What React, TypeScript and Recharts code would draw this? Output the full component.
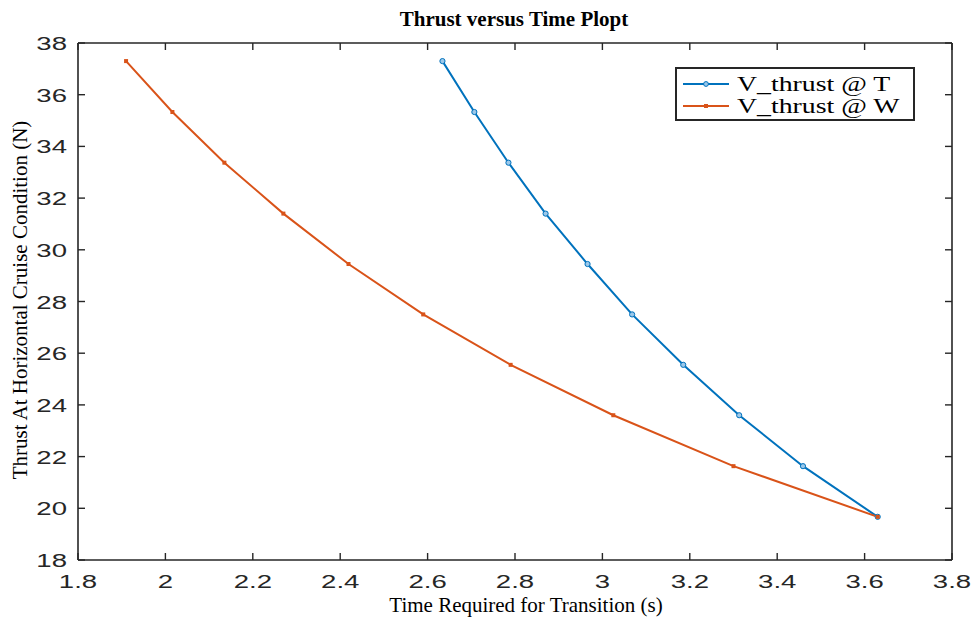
import { LineChart, Line, XAxis, YAxis } from 'recharts'

const thrust = [37.3, 35.33, 33.37, 31.4, 29.45, 27.5, 25.55, 23.6, 21.63, 19.67]
const timeAtT = [2.634, 2.707, 2.785, 2.87, 2.966, 3.068, 3.185, 3.313, 3.459, 3.63]
const timeAtW = [1.91, 2.016, 2.135, 2.27, 2.419, 2.59, 2.79, 3.025, 3.3, 3.63]
const xTicks = [1.8, 2, 2.2, 2.4, 2.6, 2.8, 3, 3.2, 3.4, 3.6, 3.8]
const yTicks = [18, 20, 22, 24, 26, 28, 30, 32, 34, 36, 38]
const seriesNames = ['V_thrust @ T', 'V_thrust @ W']

const seriesT = thrust.map((v, i) => ({ time: timeAtT[i], thrust: v }))
const seriesW = thrust.map((v, i) => ({ time: timeAtW[i], thrust: v }))

const BLUE = '#0072BD'
const ORANGE = '#D95319'
const AXIS = '#262626'
const SANS = '"Liberation Sans", Arial, sans-serif'
const SERIF = '"Liberation Serif", "Times New Roman", serif'
const STRETCH = 1.45
const TICK_LEN = 7

// MATLAB style: tick marks point into the plot, labels are wide
const BottomTick = ({ x, y, payload }: any) => (
  <g transform={`translate(${x},${y})`}>
    <line x1={0} y1={0} x2={0} y2={-TICK_LEN} stroke={AXIS} strokeWidth={1.4} />
    <text transform={`scale(${STRETCH},1)`} x={0} y={28} textAnchor="middle" fontFamily={SANS} fontSize={19} fill={AXIS}>
      {payload.value}
    </text>
  </g>
)

const LeftTick = ({ x, y, payload }: any) => (
  <g>
    <line x1={x} y1={y} x2={x + TICK_LEN} y2={y} stroke={AXIS} strokeWidth={1.4} />
    <g transform={`translate(${x - 11},${y})`}>
      <text transform={`scale(${STRETCH},1)`} x={0} y={7} textAnchor="end" fontFamily={SANS} fontSize={19} fill={AXIS}>
        {payload.value}
      </text>
    </g>
  </g>
)

const TopTick = ({ x, y }: any) => (
  <line x1={x} y1={y} x2={x} y2={y + TICK_LEN} stroke={AXIS} strokeWidth={1.4} />
)

const RightTick = ({ x, y }: any) => (
  <line x1={x} y1={y} x2={x - TICK_LEN} y2={y} stroke={AXIS} strokeWidth={1.4} />
)

const CircleDot = (props: any) => {
  const { cx, cy } = props
  if (cx == null || cy == null) return null
  return <circle cx={cx} cy={cy} r={2.6} fill="#9cc8ea" stroke={BLUE} strokeWidth={1} />
}

const SquareDot = (props: any) => {
  const { cx, cy } = props
  if (cx == null || cy == null) return null
  return <rect x={cx - 2} y={cy - 2} width={4} height={4} fill={ORANGE} />
}

const LegendBox = () => (
  <div
    style={{
      position: 'absolute',
      left: 675,
      top: 67,
      width: 236,
      height: 50,
      border: `2px solid ${AXIS}`,
      background: '#fff',
      fontFamily: SERIF,
      fontSize: 20,
      color: '#000',
    }}
  >
    {seriesNames.map((name, i) => (
      <div
        key={name}
        style={{ position: 'absolute', left: 6, top: 4 + i * 22, height: 22, display: 'flex', alignItems: 'center', whiteSpace: 'nowrap' }}
      >
        <svg width={48} height={12} style={{ marginRight: 6 }}>
          <line x1={0} y1={6} x2={46} y2={6} stroke={i === 0 ? BLUE : ORANGE} strokeWidth={2} />
          {i === 0
            ? <circle cx={23} cy={6} r={2.4} fill="#9cc8ea" stroke={BLUE} />
            : <rect x={21} y={4} width={4} height={4} fill={ORANGE} />}
        </svg>
        <span style={{ display: 'inline-block', transform: 'scaleX(1.39)', transformOrigin: 'left center', lineHeight: '22px' }}>
          {name}
        </span>
      </div>
    ))}
  </div>
)

export default function App() {
  return (
    <div style={{ position: 'fixed', left: 0, top: 0, width: 976, height: 618, background: '#fff' }}>
      <LineChart width={976} height={618} margin={{ top: 42, right: 23, bottom: 28, left: 28 }}>
        <text x={514} y={26} textAnchor="middle" fontFamily={SERIF} fontWeight="bold" fontSize={21} fill="#000">
          Thrust versus Time Plopt
        </text>
        <text x={526} y={612} textAnchor="middle" fontFamily={SERIF} fontSize={21} fill="#000">
          Time Required for Transition (s)
        </text>
        <text
          x={27}
          y={300}
          textAnchor="middle"
          transform="rotate(-90 27 300)"
          fontFamily={SERIF}
          fontSize={21}
          fill="#000"
        >
          Thrust At Horizontal Cruise Condition (N)
        </text>
        <XAxis
          xAxisId="b"
          type="number"
          dataKey="time"
          domain={[1.8, 3.8]}
          ticks={xTicks}
          allowDataOverflow
          height={30}
          tick={<BottomTick />}
          tickSize={0}
          tickMargin={0}
          tickLine={false}
          axisLine={{ stroke: AXIS, strokeWidth: 1.6 }}
        />
        <XAxis
          xAxisId="t"
          orientation="top"
          type="number"
          dataKey="time"
          domain={[1.8, 3.8]}
          ticks={xTicks}
          allowDataOverflow
          height={1}
          tick={<TopTick />}
          tickSize={0}
          tickMargin={0}
          tickLine={false}
          axisLine={{ stroke: AXIS, strokeWidth: 1.6 }}
        />
        <YAxis
          yAxisId="l"
          type="number"
          domain={[18, 38]}
          ticks={yTicks}
          allowDataOverflow
          width={50}
          tick={<LeftTick />}
          tickSize={0}
          tickMargin={0}
          tickLine={false}
          axisLine={{ stroke: AXIS, strokeWidth: 1.6 }}
        />
        <YAxis
          yAxisId="r"
          orientation="right"
          type="number"
          domain={[18, 38]}
          ticks={yTicks}
          allowDataOverflow
          width={1}
          tick={<RightTick />}
          tickSize={0}
          tickMargin={0}
          tickLine={false}
          axisLine={{ stroke: AXIS, strokeWidth: 1.6 }}
        />
        <Line
          xAxisId="b"
          yAxisId="l"
          data={seriesT}
          dataKey="thrust"
          name={seriesNames[0]}
          type="linear"
          stroke={BLUE}
          strokeWidth={2}
          dot={<CircleDot />}
          activeDot={false}
          isAnimationActive={false}
        />
        <Line
          xAxisId="b"
          yAxisId="l"
          data={seriesW}
          dataKey="thrust"
          name={seriesNames[1]}
          type="linear"
          stroke={ORANGE}
          strokeWidth={2}
          dot={<SquareDot />}
          activeDot={false}
          isAnimationActive={false}
        />
      </LineChart>
      <LegendBox />
    </div>
  )
}
